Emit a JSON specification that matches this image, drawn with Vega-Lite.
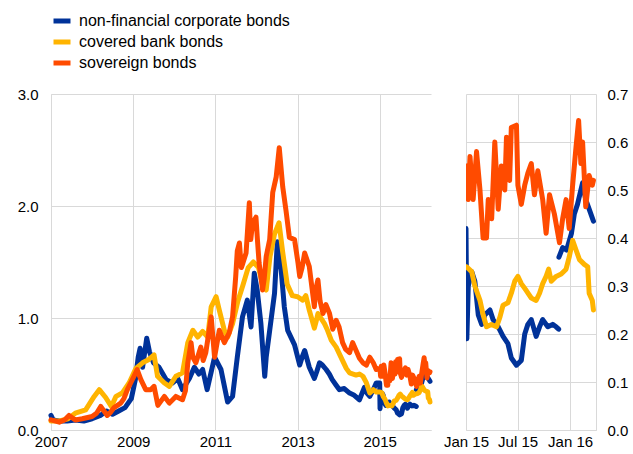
{
 "$schema": "https://vega.github.io/schema/vega-lite/v6.json",
 "padding": {"left": 17, "top": 10, "right": 5, "bottom": 5},
 "background": "white",
 "config": {
  "font": "Liberation Sans",
  "view": {"stroke": null},
  "axis": {"labelFont": "Liberation Sans", "labelFontSize": 15, "labelColor": "#000", "gridColor": "#d9d9d9", "gridWidth": 1, "domainColor": "#d9d9d9", "ticks": false, "title": null, "labelFlush": false, "labelOverlap": false},
  "line": {"strokeWidth": 5, "strokeJoin": "round", "strokeCap": "round"}
 },
 "datasets": {
  "d": [
   {"d":"2007-01-01","s":"non-financial corporate bonds","v":0.13},
   {"d":"2007-01-20","s":"non-financial corporate bonds","v":0.09},
   {"d":"2007-03-15","s":"non-financial corporate bonds","v":0.08},
   {"d":"2007-05-25","s":"non-financial corporate bonds","v":0.08},
   {"d":"2007-08-05","s":"non-financial corporate bonds","v":0.09},
   {"d":"2007-10-20","s":"non-financial corporate bonds","v":0.08},
   {"d":"2008-01-01","s":"non-financial corporate bonds","v":0.10},
   {"d":"2008-03-15","s":"non-financial corporate bonds","v":0.13},
   {"d":"2008-05-08","s":"non-financial corporate bonds","v":0.17},
   {"d":"2008-07-01","s":"non-financial corporate bonds","v":0.14},
   {"d":"2008-08-25","s":"non-financial corporate bonds","v":0.17},
   {"d":"2008-10-20","s":"non-financial corporate bonds","v":0.20},
   {"d":"2008-12-15","s":"non-financial corporate bonds","v":0.28},
   {"d":"2009-01-20","s":"non-financial corporate bonds","v":0.45},
   {"d":"2009-02-14","s":"non-financial corporate bonds","v":0.65},
   {"d":"2009-03-03","s":"non-financial corporate bonds","v":0.73},
   {"d":"2009-03-25","s":"non-financial corporate bonds","v":0.56},
   {"d":"2009-05-01","s":"non-financial corporate bonds","v":0.82},
   {"d":"2009-05-25","s":"non-financial corporate bonds","v":0.70},
   {"d":"2009-07-01","s":"non-financial corporate bonds","v":0.60},
   {"d":"2009-08-18","s":"non-financial corporate bonds","v":0.56},
   {"d":"2009-10-20","s":"non-financial corporate bonds","v":0.45},
   {"d":"2009-12-15","s":"non-financial corporate bonds","v":0.42},
   {"d":"2010-02-01","s":"non-financial corporate bonds","v":0.46},
   {"d":"2010-03-15","s":"non-financial corporate bonds","v":0.36},
   {"d":"2010-05-15","s":"non-financial corporate bonds","v":0.46},
   {"d":"2010-06-28","s":"non-financial corporate bonds","v":0.56},
   {"d":"2010-08-08","s":"non-financial corporate bonds","v":0.50},
   {"d":"2010-09-10","s":"non-financial corporate bonds","v":0.54},
   {"d":"2010-10-20","s":"non-financial corporate bonds","v":0.36},
   {"d":"2010-12-25","s":"non-financial corporate bonds","v":0.65},
   {"d":"2011-02-20","s":"non-financial corporate bonds","v":0.54},
   {"d":"2011-04-20","s":"non-financial corporate bonds","v":0.25},
   {"d":"2011-06-03","s":"non-financial corporate bonds","v":0.30},
   {"d":"2011-07-15","s":"non-financial corporate bonds","v":0.65},
   {"d":"2011-08-30","s":"non-financial corporate bonds","v":1.01},
   {"d":"2011-10-12","s":"non-financial corporate bonds","v":1.16},
   {"d":"2011-11-14","s":"non-financial corporate bonds","v":0.92},
   {"d":"2011-12-13","s":"non-financial corporate bonds","v":1.40},
   {"d":"2012-01-08","s":"non-financial corporate bonds","v":1.25},
   {"d":"2012-02-10","s":"non-financial corporate bonds","v":0.95},
   {"d":"2012-03-15","s":"non-financial corporate bonds","v":0.48},
   {"d":"2012-03-28","s":"non-financial corporate bonds","v":0.65},
   {"d":"2012-04-28","s":"non-financial corporate bonds","v":0.89},
   {"d":"2012-06-10","s":"non-financial corporate bonds","v":1.22},
   {"d":"2012-07-05","s":"non-financial corporate bonds","v":1.68},
   {"d":"2012-08-08","s":"non-financial corporate bonds","v":1.43},
   {"d":"2012-09-05","s":"non-financial corporate bonds","v":1.10},
   {"d":"2012-10-05","s":"non-financial corporate bonds","v":0.89},
   {"d":"2012-12-05","s":"non-financial corporate bonds","v":0.76},
   {"d":"2013-01-20","s":"non-financial corporate bonds","v":0.58},
   {"d":"2013-02-10","s":"non-financial corporate bonds","v":0.65},
   {"d":"2013-03-05","s":"non-financial corporate bonds","v":0.71},
   {"d":"2013-04-15","s":"non-financial corporate bonds","v":0.56},
   {"d":"2013-05-30","s":"non-financial corporate bonds","v":0.46},
   {"d":"2013-06-20","s":"non-financial corporate bonds","v":0.52},
   {"d":"2013-07-15","s":"non-financial corporate bonds","v":0.60},
   {"d":"2013-08-10","s":"non-financial corporate bonds","v":0.58},
   {"d":"2013-09-12","s":"non-financial corporate bonds","v":0.54},
   {"d":"2013-10-10","s":"non-financial corporate bonds","v":0.50},
   {"d":"2013-11-05","s":"non-financial corporate bonds","v":0.45},
   {"d":"2013-12-10","s":"non-financial corporate bonds","v":0.40},
   {"d":"2014-01-08","s":"non-financial corporate bonds","v":0.36},
   {"d":"2014-02-20","s":"non-financial corporate bonds","v":0.37},
   {"d":"2014-04-08","s":"non-financial corporate bonds","v":0.33},
   {"d":"2014-05-20","s":"non-financial corporate bonds","v":0.31},
   {"d":"2014-07-05","s":"non-financial corporate bonds","v":0.27},
   {"d":"2014-08-18","s":"non-financial corporate bonds","v":0.38},
   {"d":"2014-09-10","s":"non-financial corporate bonds","v":0.33},
   {"d":"2014-10-05","s":"non-financial corporate bonds","v":0.30},
   {"d":"2014-11-05","s":"non-financial corporate bonds","v":0.36},
   {"d":"2014-12-01","s":"non-financial corporate bonds","v":0.42},
   {"d":"2015-01-01","s":"non-financial corporate bonds","v":0.42},
   {"d":"2015-01-04","s":"non-financial corporate bonds","v":0.19},
   {"d":"2015-01-09","s":"non-financial corporate bonds","v":0.30},
   {"d":"2015-01-21","s":"non-financial corporate bonds","v":0.33},
   {"d":"2015-02-01","s":"non-financial corporate bonds","v":0.31},
   {"d":"2015-02-13","s":"non-financial corporate bonds","v":0.24},
   {"d":"2015-02-25","s":"non-financial corporate bonds","v":0.22},
   {"d":"2015-03-08","s":"non-financial corporate bonds","v":0.24},
   {"d":"2015-03-26","s":"non-financial corporate bonds","v":0.25},
   {"d":"2015-04-06","s":"non-financial corporate bonds","v":0.23},
   {"d":"2015-04-24","s":"non-financial corporate bonds","v":0.215},
   {"d":"2015-05-11","s":"non-financial corporate bonds","v":0.195},
   {"d":"2015-05-28","s":"non-financial corporate bonds","v":0.18},
   {"d":"2015-06-09","s":"non-financial corporate bonds","v":0.15},
   {"d":"2015-06-27","s":"non-financial corporate bonds","v":0.135},
   {"d":"2015-07-14","s":"non-financial corporate bonds","v":0.145},
   {"d":"2015-07-26","s":"non-financial corporate bonds","v":0.20},
   {"d":"2015-08-06","s":"non-financial corporate bonds","v":0.22},
   {"d":"2015-08-18","s":"non-financial corporate bonds","v":0.23},
   {"d":"2015-09-04","s":"non-financial corporate bonds","v":0.195},
   {"d":"2015-09-16","s":"non-financial corporate bonds","v":0.215},
   {"d":"2015-09-27","s":"non-financial corporate bonds","v":0.23},
   {"d":"2015-10-15","s":"non-financial corporate bonds","v":0.215},
   {"d":"2015-11-01","s":"non-financial corporate bonds","v":0.22},
   {"d":"2015-11-13","s":"non-financial corporate bonds","v":0.215},
   {"d":"2015-11-22","s":"non-financial corporate bonds","v":0.21},
   {"d":"2015-11-23","s":"non-financial corporate bonds","v":0.36,"g":2},
   {"d":"2015-12-06","s":"non-financial corporate bonds","v":0.38,"g":2},
   {"d":"2015-12-20","s":"non-financial corporate bonds","v":0.375,"g":2},
   {"d":"2016-01-06","s":"non-financial corporate bonds","v":0.41,"g":2},
   {"d":"2016-01-16","s":"non-financial corporate bonds","v":0.45,"g":2},
   {"d":"2016-01-27","s":"non-financial corporate bonds","v":0.47,"g":2},
   {"d":"2016-02-14","s":"non-financial corporate bonds","v":0.515,"g":2},
   {"d":"2016-02-25","s":"non-financial corporate bonds","v":0.48,"g":2},
   {"d":"2016-03-08","s":"non-financial corporate bonds","v":0.46,"g":2},
   {"d":"2016-03-23","s":"non-financial corporate bonds","v":0.435,"g":2},

   {"d":"2007-01-01","s":"covered bank bonds","v":0.08},
   {"d":"2007-03-15","s":"covered bank bonds","v":0.08},
   {"d":"2007-06-01","s":"covered bank bonds","v":0.10},
   {"d":"2007-08-05","s":"covered bank bonds","v":0.15},
   {"d":"2007-11-05","s":"covered bank bonds","v":0.18},
   {"d":"2008-01-20","s":"covered bank bonds","v":0.30},
   {"d":"2008-03-05","s":"covered bank bonds","v":0.36},
   {"d":"2008-05-01","s":"covered bank bonds","v":0.29},
   {"d":"2008-06-20","s":"covered bank bonds","v":0.21},
   {"d":"2008-08-01","s":"covered bank bonds","v":0.30},
   {"d":"2008-09-25","s":"covered bank bonds","v":0.33},
   {"d":"2008-11-25","s":"covered bank bonds","v":0.42},
   {"d":"2009-01-25","s":"covered bank bonds","v":0.55},
   {"d":"2009-03-25","s":"covered bank bonds","v":0.60},
   {"d":"2009-05-20","s":"covered bank bonds","v":0.63},
   {"d":"2009-07-05","s":"covered bank bonds","v":0.67},
   {"d":"2009-08-05","s":"covered bank bonds","v":0.48},
   {"d":"2009-10-05","s":"covered bank bonds","v":0.42},
   {"d":"2009-11-18","s":"covered bank bonds","v":0.39},
   {"d":"2010-01-15","s":"covered bank bonds","v":0.48},
   {"d":"2010-03-15","s":"covered bank bonds","v":0.51},
   {"d":"2010-05-01","s":"covered bank bonds","v":0.78},
   {"d":"2010-06-15","s":"covered bank bonds","v":0.89},
   {"d":"2010-07-28","s":"covered bank bonds","v":0.83},
   {"d":"2010-09-10","s":"covered bank bonds","v":0.88},
   {"d":"2010-10-25","s":"covered bank bonds","v":0.83},
   {"d":"2010-11-25","s":"covered bank bonds","v":1.10},
   {"d":"2011-01-08","s":"covered bank bonds","v":1.19},
   {"d":"2011-02-05","s":"covered bank bonds","v":1.07},
   {"d":"2011-03-22","s":"covered bank bonds","v":0.89},
   {"d":"2011-04-20","s":"covered bank bonds","v":0.83},
   {"d":"2011-06-03","s":"covered bank bonds","v":0.95},
   {"d":"2011-07-20","s":"covered bank bonds","v":1.15},
   {"d":"2011-09-05","s":"covered bank bonds","v":1.30},
   {"d":"2011-10-20","s":"covered bank bonds","v":1.45},
   {"d":"2011-12-05","s":"covered bank bonds","v":1.50},
   {"d":"2012-01-20","s":"covered bank bonds","v":1.45},
   {"d":"2012-02-25","s":"covered bank bonds","v":1.30},
   {"d":"2012-03-28","s":"covered bank bonds","v":1.25},
   {"d":"2012-05-01","s":"covered bank bonds","v":1.55},
   {"d":"2012-06-10","s":"covered bank bonds","v":1.75},
   {"d":"2012-07-20","s":"covered bank bonds","v":1.85},
   {"d":"2012-08-20","s":"covered bank bonds","v":1.60},
   {"d":"2012-10-01","s":"covered bank bonds","v":1.30},
   {"d":"2012-11-15","s":"covered bank bonds","v":1.20},
   {"d":"2013-01-01","s":"covered bank bonds","v":1.19},
   {"d":"2013-02-15","s":"covered bank bonds","v":1.16},
   {"d":"2013-03-15","s":"covered bank bonds","v":1.20},
   {"d":"2013-04-15","s":"covered bank bonds","v":1.07},
   {"d":"2013-05-30","s":"covered bank bonds","v":0.91},
   {"d":"2013-06-15","s":"covered bank bonds","v":0.97},
   {"d":"2013-07-01","s":"covered bank bonds","v":1.04},
   {"d":"2013-08-28","s":"covered bank bonds","v":0.95},
   {"d":"2013-09-20","s":"covered bank bonds","v":0.90},
   {"d":"2013-10-28","s":"covered bank bonds","v":0.80},
   {"d":"2013-12-10","s":"covered bank bonds","v":0.74},
   {"d":"2014-02-05","s":"covered bank bonds","v":0.62},
   {"d":"2014-03-10","s":"covered bank bonds","v":0.55},
   {"d":"2014-04-08","s":"covered bank bonds","v":0.51},
   {"d":"2014-06-05","s":"covered bank bonds","v":0.49},
   {"d":"2014-07-05","s":"covered bank bonds","v":0.50},
   {"d":"2014-08-05","s":"covered bank bonds","v":0.48},
   {"d":"2014-09-05","s":"covered bank bonds","v":0.42},
   {"d":"2014-10-05","s":"covered bank bonds","v":0.33},
   {"d":"2014-11-05","s":"covered bank bonds","v":0.36},
   {"d":"2014-12-01","s":"covered bank bonds","v":0.34},
   {"d":"2015-01-03","s":"covered bank bonds","v":0.34},
   {"d":"2015-01-21","s":"covered bank bonds","v":0.33},
   {"d":"2015-02-01","s":"covered bank bonds","v":0.30},
   {"d":"2015-02-19","s":"covered bank bonds","v":0.27},
   {"d":"2015-03-02","s":"covered bank bonds","v":0.24},
   {"d":"2015-03-14","s":"covered bank bonds","v":0.215},
   {"d":"2015-03-31","s":"covered bank bonds","v":0.22},
   {"d":"2015-04-18","s":"covered bank bonds","v":0.215},
   {"d":"2015-04-30","s":"covered bank bonds","v":0.235},
   {"d":"2015-05-11","s":"covered bank bonds","v":0.26},
   {"d":"2015-05-28","s":"covered bank bonds","v":0.265},
   {"d":"2015-06-09","s":"covered bank bonds","v":0.285},
   {"d":"2015-06-21","s":"covered bank bonds","v":0.31},
   {"d":"2015-07-02","s":"covered bank bonds","v":0.32},
   {"d":"2015-07-14","s":"covered bank bonds","v":0.305},
   {"d":"2015-08-01","s":"covered bank bonds","v":0.29},
   {"d":"2015-08-18","s":"covered bank bonds","v":0.275},
   {"d":"2015-09-04","s":"covered bank bonds","v":0.27},
   {"d":"2015-09-16","s":"covered bank bonds","v":0.285},
   {"d":"2015-09-27","s":"covered bank bonds","v":0.305},
   {"d":"2015-10-09","s":"covered bank bonds","v":0.32},
   {"d":"2015-10-18","s":"covered bank bonds","v":0.335},
   {"d":"2015-10-27","s":"covered bank bonds","v":0.31},
   {"d":"2015-11-13","s":"covered bank bonds","v":0.32},
   {"d":"2015-12-01","s":"covered bank bonds","v":0.325},
   {"d":"2015-12-18","s":"covered bank bonds","v":0.335},
   {"d":"2015-12-29","s":"covered bank bonds","v":0.36},
   {"d":"2016-01-10","s":"covered bank bonds","v":0.395},
   {"d":"2016-01-22","s":"covered bank bonds","v":0.375},
   {"d":"2016-02-03","s":"covered bank bonds","v":0.355},
   {"d":"2016-02-20","s":"covered bank bonds","v":0.345},
   {"d":"2016-03-03","s":"covered bank bonds","v":0.34},
   {"d":"2016-03-08","s":"covered bank bonds","v":0.285},
   {"d":"2016-03-19","s":"covered bank bonds","v":0.27},
   {"d":"2016-03-23","s":"covered bank bonds","v":0.25},

   {"d":"2007-01-01","s":"sovereign bonds","v":0.09},
   {"d":"2007-03-15","s":"sovereign bonds","v":0.07},
   {"d":"2007-05-01","s":"sovereign bonds","v":0.09},
   {"d":"2007-06-10","s":"sovereign bonds","v":0.13},
   {"d":"2007-08-05","s":"sovereign bonds","v":0.09},
   {"d":"2007-10-05","s":"sovereign bonds","v":0.10},
   {"d":"2008-01-01","s":"sovereign bonds","v":0.12},
   {"d":"2008-02-10","s":"sovereign bonds","v":0.15},
   {"d":"2008-03-18","s":"sovereign bonds","v":0.21},
   {"d":"2008-05-15","s":"sovereign bonds","v":0.13},
   {"d":"2008-06-15","s":"sovereign bonds","v":0.16},
   {"d":"2008-07-15","s":"sovereign bonds","v":0.20},
   {"d":"2008-09-12","s":"sovereign bonds","v":0.24},
   {"d":"2008-10-10","s":"sovereign bonds","v":0.28},
   {"d":"2008-11-10","s":"sovereign bonds","v":0.36},
   {"d":"2009-01-08","s":"sovereign bonds","v":0.48},
   {"d":"2009-02-05","s":"sovereign bonds","v":0.54},
   {"d":"2009-03-10","s":"sovereign bonds","v":0.45},
   {"d":"2009-04-22","s":"sovereign bonds","v":0.36},
   {"d":"2009-06-05","s":"sovereign bonds","v":0.36},
   {"d":"2009-07-05","s":"sovereign bonds","v":0.39},
   {"d":"2009-08-08","s":"sovereign bonds","v":0.22},
   {"d":"2009-10-05","s":"sovereign bonds","v":0.30},
   {"d":"2009-11-18","s":"sovereign bonds","v":0.24},
   {"d":"2010-01-15","s":"sovereign bonds","v":0.30},
   {"d":"2010-03-15","s":"sovereign bonds","v":0.27},
   {"d":"2010-04-10","s":"sovereign bonds","v":0.35},
   {"d":"2010-05-01","s":"sovereign bonds","v":0.60},
   {"d":"2010-05-30","s":"sovereign bonds","v":0.78},
   {"d":"2010-06-15","s":"sovereign bonds","v":0.65},
   {"d":"2010-07-12","s":"sovereign bonds","v":0.60},
   {"d":"2010-08-25","s":"sovereign bonds","v":0.74},
   {"d":"2010-09-15","s":"sovereign bonds","v":0.62},
   {"d":"2010-10-08","s":"sovereign bonds","v":0.69},
   {"d":"2010-11-25","s":"sovereign bonds","v":1.01},
   {"d":"2010-12-25","s":"sovereign bonds","v":0.65},
   {"d":"2011-02-05","s":"sovereign bonds","v":0.89},
   {"d":"2011-03-22","s":"sovereign bonds","v":0.78},
   {"d":"2011-05-05","s":"sovereign bonds","v":0.87},
   {"d":"2011-06-03","s":"sovereign bonds","v":1.01},
   {"d":"2011-07-01","s":"sovereign bonds","v":1.37},
   {"d":"2011-07-15","s":"sovereign bonds","v":1.60},
   {"d":"2011-08-03","s":"sovereign bonds","v":1.67},
   {"d":"2011-08-20","s":"sovereign bonds","v":1.45},
   {"d":"2011-09-03","s":"sovereign bonds","v":1.49},
   {"d":"2011-10-01","s":"sovereign bonds","v":1.58},
   {"d":"2011-10-30","s":"sovereign bonds","v":2.03},
   {"d":"2011-11-12","s":"sovereign bonds","v":1.70},
   {"d":"2011-11-28","s":"sovereign bonds","v":1.85},
   {"d":"2011-12-28","s":"sovereign bonds","v":1.90},
   {"d":"2012-01-10","s":"sovereign bonds","v":1.70},
   {"d":"2012-01-25","s":"sovereign bonds","v":1.49},
   {"d":"2012-02-25","s":"sovereign bonds","v":1.25},
   {"d":"2012-03-10","s":"sovereign bonds","v":1.35},
   {"d":"2012-03-28","s":"sovereign bonds","v":1.55},
   {"d":"2012-04-28","s":"sovereign bonds","v":1.70},
   {"d":"2012-05-25","s":"sovereign bonds","v":2.12},
   {"d":"2012-06-25","s":"sovereign bonds","v":2.26},
   {"d":"2012-07-22","s":"sovereign bonds","v":2.52},
   {"d":"2012-08-22","s":"sovereign bonds","v":2.17},
   {"d":"2012-09-20","s":"sovereign bonds","v":1.96},
   {"d":"2012-10-20","s":"sovereign bonds","v":1.72},
   {"d":"2012-12-05","s":"sovereign bonds","v":1.70},
   {"d":"2013-01-05","s":"sovereign bonds","v":1.49},
   {"d":"2013-01-20","s":"sovereign bonds","v":1.37},
   {"d":"2013-02-10","s":"sovereign bonds","v":1.45},
   {"d":"2013-03-05","s":"sovereign bonds","v":1.58},
   {"d":"2013-04-15","s":"sovereign bonds","v":1.46},
   {"d":"2013-05-30","s":"sovereign bonds","v":1.10},
   {"d":"2013-06-10","s":"sovereign bonds","v":1.25},
   {"d":"2013-07-01","s":"sovereign bonds","v":1.34},
   {"d":"2013-07-20","s":"sovereign bonds","v":1.15},
   {"d":"2013-08-15","s":"sovereign bonds","v":1.04},
   {"d":"2013-09-10","s":"sovereign bonds","v":1.12},
   {"d":"2013-10-12","s":"sovereign bonds","v":1.04},
   {"d":"2013-11-10","s":"sovereign bonds","v":0.90},
   {"d":"2013-12-10","s":"sovereign bonds","v":0.98},
   {"d":"2014-01-05","s":"sovereign bonds","v":0.92},
   {"d":"2014-02-05","s":"sovereign bonds","v":0.78},
   {"d":"2014-03-05","s":"sovereign bonds","v":0.72},
   {"d":"2014-04-08","s":"sovereign bonds","v":0.69},
   {"d":"2014-05-05","s":"sovereign bonds","v":0.78},
   {"d":"2014-06-05","s":"sovereign bonds","v":0.71},
   {"d":"2014-07-05","s":"sovereign bonds","v":0.64},
   {"d":"2014-08-05","s":"sovereign bonds","v":0.60},
   {"d":"2014-09-05","s":"sovereign bonds","v":0.58},
   {"d":"2014-10-05","s":"sovereign bonds","v":0.65},
   {"d":"2014-11-05","s":"sovereign bonds","v":0.60},
   {"d":"2014-12-01","s":"sovereign bonds","v":0.54},
   {"d":"2015-01-03","s":"sovereign bonds","v":0.55},
   {"d":"2015-01-09","s":"sovereign bonds","v":0.48},
   {"d":"2015-01-15","s":"sovereign bonds","v":0.57},
   {"d":"2015-01-26","s":"sovereign bonds","v":0.48},
   {"d":"2015-02-07","s":"sovereign bonds","v":0.58},
   {"d":"2015-02-19","s":"sovereign bonds","v":0.50},
   {"d":"2015-03-02","s":"sovereign bonds","v":0.40},
   {"d":"2015-03-14","s":"sovereign bonds","v":0.40},
   {"d":"2015-03-20","s":"sovereign bonds","v":0.48},
   {"d":"2015-04-01","s":"sovereign bonds","v":0.44},
   {"d":"2015-04-12","s":"sovereign bonds","v":0.60},
   {"d":"2015-04-24","s":"sovereign bonds","v":0.46},
   {"d":"2015-05-05","s":"sovereign bonds","v":0.55},
   {"d":"2015-05-17","s":"sovereign bonds","v":0.50},
   {"d":"2015-05-23","s":"sovereign bonds","v":0.61},
   {"d":"2015-06-03","s":"sovereign bonds","v":0.52},
   {"d":"2015-06-09","s":"sovereign bonds","v":0.63},
   {"d":"2015-06-27","s":"sovereign bonds","v":0.635},
   {"d":"2015-07-02","s":"sovereign bonds","v":0.51},
   {"d":"2015-07-14","s":"sovereign bonds","v":0.47},
   {"d":"2015-07-26","s":"sovereign bonds","v":0.51},
   {"d":"2015-08-06","s":"sovereign bonds","v":0.535},
   {"d":"2015-08-18","s":"sovereign bonds","v":0.555},
   {"d":"2015-08-29","s":"sovereign bonds","v":0.49},
   {"d":"2015-09-10","s":"sovereign bonds","v":0.54},
   {"d":"2015-09-27","s":"sovereign bonds","v":0.48},
   {"d":"2015-10-09","s":"sovereign bonds","v":0.41},
   {"d":"2015-10-21","s":"sovereign bonds","v":0.49},
   {"d":"2015-11-07","s":"sovereign bonds","v":0.45},
   {"d":"2015-11-25","s":"sovereign bonds","v":0.39},
   {"d":"2015-12-06","s":"sovereign bonds","v":0.44},
   {"d":"2015-12-18","s":"sovereign bonds","v":0.48},
   {"d":"2015-12-29","s":"sovereign bonds","v":0.42},
   {"d":"2016-01-10","s":"sovereign bonds","v":0.51},
   {"d":"2016-01-22","s":"sovereign bonds","v":0.59},
   {"d":"2016-01-31","s":"sovereign bonds","v":0.645},
   {"d":"2016-02-08","s":"sovereign bonds","v":0.555},
   {"d":"2016-02-14","s":"sovereign bonds","v":0.60},
   {"d":"2016-02-25","s":"sovereign bonds","v":0.465},
   {"d":"2016-03-08","s":"sovereign bonds","v":0.53},
   {"d":"2016-03-19","s":"sovereign bonds","v":0.51},
   {"d":"2016-03-23","s":"sovereign bonds","v":0.52}
  ]
 },
 "spacing": 35,
 "bounds": "flush",
 "resolve": {"scale": {"x": "independent", "y": "independent", "color": "shared"}, "legend": {"color": "shared"}},
 "hconcat": [
  {
   "width": 380,
   "height": 336,
   "data": {"name": "d"},
   "encoding": {
    "x": {"field": "d", "type": "temporal",
     "scale": {"type": "utc", "domain": [{"year": 2007, "month": 1, "date": 1, "utc": true}, {"year": 2016, "month": 4, "date": 1, "utc": true}]},
     "axis": {"values": [{"year": 2007, "month": 1, "date": 1, "utc": true}, {"year": 2009, "month": 1, "date": 1, "utc": true}, {"year": 2011, "month": 1, "date": 1, "utc": true}, {"year": 2013, "month": 1, "date": 1, "utc": true}, {"year": 2015, "month": 1, "date": 1, "utc": true}], "format": "%Y", "labelPadding": 4, "grid": true}},
    "y": {"field": "v", "type": "quantitative", "scale": {"domain": [0, 3]},
     "axis": {"values": [0, 1, 2, 3], "format": ".1f", "labelPadding": 13, "grid": true}},
    "color": {"field": "s", "type": "nominal",
     "scale": {"domain": ["non-financial corporate bonds", "covered bank bonds", "sovereign bonds"], "range": ["#003299", "#ffb400", "#ff4b00"]},
     "legend": {"title": null, "orient": "none", "legendX": 0, "legendY": -84, "labelFont": "Liberation Sans", "labelFontSize": 16, "labelColor": "#000", "labelLimit": 400, "symbolType": "stroke", "symbolSize": 289, "symbolStrokeWidth": 7, "labelOffset": 6, "rowPadding": 2, "padding": 0}},
    "detail": {"field": "g"}
   },
   "layer": [
    {"transform": [{"filter": "datum.s === 'non-financial corporate bonds'"}], "mark": {"type": "line"}},
    {"transform": [{"filter": "datum.s === 'covered bank bonds'"}], "mark": {"type": "line"}},
    {"transform": [{"filter": "datum.s === 'sovereign bonds'"}], "mark": {"type": "line"}}
   ]
  },
  {
   "width": 130,
   "height": 336,
   "data": {"name": "d"},
   "encoding": {
    "x": {"field": "d", "type": "temporal",
     "scale": {"type": "utc", "domain": [{"year": 2015, "month": 1, "date": 1, "utc": true}, {"year": 2016, "month": 4, "date": 1, "utc": true}]},
     "axis": {"values": [{"year": 2015, "month": 1, "date": 1, "utc": true}, {"year": 2015, "month": 7, "date": 1, "utc": true}, {"year": 2016, "month": 1, "date": 1, "utc": true}], "format": "%b %y", "labelPadding": 4, "grid": true}},
    "y": {"field": "v", "type": "quantitative", "scale": {"domain": [0, 0.7]},
     "axis": {"orient": "right", "values": [0, 0.1, 0.2, 0.3, 0.4, 0.5, 0.6, 0.7], "format": ".1f", "labelPadding": 11, "grid": true}},
    "color": {"field": "s", "type": "nominal",
     "scale": {"domain": ["non-financial corporate bonds", "covered bank bonds", "sovereign bonds"], "range": ["#003299", "#ffb400", "#ff4b00"]},
     "legend": {"title": null, "orient": "none", "legendX": 0, "legendY": -84, "labelFont": "Liberation Sans", "labelFontSize": 16, "labelColor": "#000", "labelLimit": 400, "symbolType": "stroke", "symbolSize": 289, "symbolStrokeWidth": 7, "labelOffset": 6, "rowPadding": 2, "padding": 0}},
    "detail": {"field": "g"}
   },
   "layer": [
    {"transform": [{"filter": "datum.s === 'non-financial corporate bonds'"}], "mark": {"type": "line", "clip": true}},
    {"transform": [{"filter": "datum.s === 'covered bank bonds'"}], "mark": {"type": "line", "clip": true}},
    {"transform": [{"filter": "datum.s === 'sovereign bonds'"}], "mark": {"type": "line", "clip": true}}
   ]
  }
 ]
}
